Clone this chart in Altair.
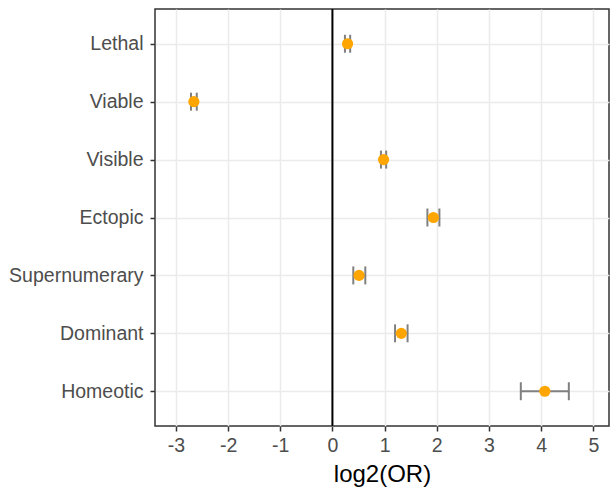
import altair as alt
import pandas as pd

categories = ["Lethal", "Viable", "Visible", "Ectopic", "Supernumerary", "Dominant", "Homeotic"]
log2_or = [0.29, -2.655, 0.98, 1.935, 0.51, 1.32, 4.07]
ci_low = [0.24, -2.71, 0.93, 1.82, 0.40, 1.20, 3.61]
ci_high = [0.34, -2.60, 1.03, 2.05, 0.63, 1.44, 4.53]
x_ticks = [-3, -2, -1, 0, 1, 2, 3, 4, 5]

df = pd.DataFrame({"term": categories, "est": log2_or, "lo": ci_low, "hi": ci_high})

FONT = "Liberation Sans"
xs = alt.Scale(domain=[-3.4, 5.3], nice=False, zero=False)
ys = alt.Scale(domain=categories, type="point", padding=0.6)

x_axis = alt.Axis(values=x_ticks, title="log2(OR)", grid=True, domain=False,
                  labelExpr="datum.value < 0 ? '-' + abs(datum.value) : '' + datum.value",
                  labelFontSize=19.5, labelColor="#4d4d4d", labelFont=FONT,
                  titleFontSize=24, titleFont=FONT, titleFontWeight="normal", titleColor="#000000",
                  tickColor="#333333", tickSize=5, tickWidth=1.5, labelPadding=5, titlePadding=8,
                  gridColor="#ebebeb", gridWidth=1.5)
y_axis = alt.Axis(title=None, grid=True, domain=False,
                  labelFontSize=19.5, labelColor="#4d4d4d", labelFont=FONT,
                  tickColor="#333333", tickSize=5, tickWidth=1.5, labelPadding=7,
                  gridColor="#ebebeb", gridWidth=1.5)

base = alt.Chart(df)

zero = alt.Chart(pd.DataFrame({"z": [0]})).mark_rule(color="#000000", strokeWidth=2).encode(
    x=alt.X("z:Q", scale=xs, axis=x_axis))

bar = base.mark_rule(color="#808080", strokeWidth=2).encode(
    x=alt.X("lo:Q", scale=xs, axis=x_axis), x2="hi:Q",
    y=alt.Y("term:N", scale=ys, axis=y_axis, sort=categories))

cap_lo = base.mark_tick(color="#808080", thickness=2, size=18, opacity=1).encode(
    x=alt.X("lo:Q", scale=xs), y=alt.Y("term:N", scale=ys, sort=categories))
cap_hi = base.mark_tick(color="#808080", thickness=2, size=18, opacity=1).encode(
    x=alt.X("hi:Q", scale=xs), y=alt.Y("term:N", scale=ys, sort=categories))

pts = base.mark_circle(color="#FFA500", size=125, opacity=1).encode(
    x=alt.X("est:Q", scale=xs), y=alt.Y("term:N", scale=ys, sort=categories))

chart = alt.layer(zero, bar, cap_lo, cap_hi, pts).properties(
    width=454, height=417,
    autosize=alt.AutoSizeParams(type="none"),
    padding={"left": 155, "top": 9, "right": 2, "bottom": 62},
    background="white",
).configure_view(stroke="#333333", strokeWidth=1.5)

chart.save("out.html", embed_options={"renderer": "svg", "actions": False})
